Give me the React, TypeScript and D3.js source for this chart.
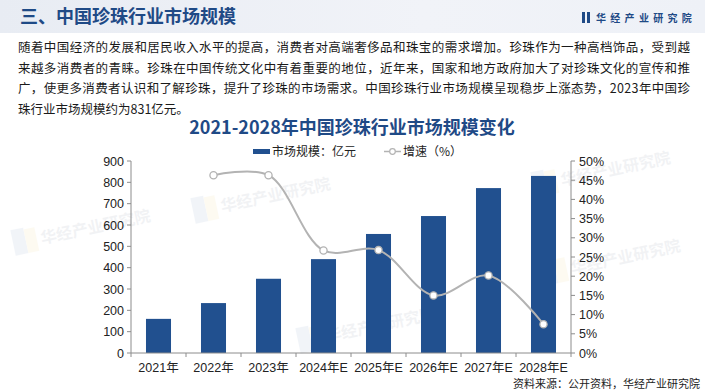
import React from "react";
import * as d3 from "d3";

const years = ["2021年", "2022年", "2023年", "2024年E", "2025年E", "2026年E", "2027年E", "2028年E"];
const marketSize = [160, 234, 348, 440, 558, 642, 773, 830];
const growth: (number | null)[] = [null, 46.3, 46.3, 26.7, 26.8, 15.0, 20.2, 7.5];
const leftTicks = [0, 100, 200, 300, 400, 500, 600, 700, 800, 900];
const rightTicks = [0, 5, 10, 15, 20, 25, 30, 35, 40, 45, 50];

const introLines = [
  "随着中国经济的发展和居民收入水平的提高，消费者对高端奢侈品和珠宝的需求增加。珍珠作为一种高档饰品，受到越",
  "来越多消费者的青睐。珍珠在中国传统文化中有着重要的地位，近年来，国家和地方政府加大了对珍珠文化的宣传和推",
  "广，使更多消费者认识和了解珍珠，提升了珍珠的市场需求。中国珍珠行业市场规模呈现稳步上涨态势，2023年中国珍",
  "珠行业市场规模约为831亿元。",
];

const W = 705;
const H = 392;
const BLUE = "#21508f";
const GRAY_LINE = "#b3b3b3";
const AXIS = "#8c8c8c";
const CJK = "'Noto Sans CJK SC', 'Noto Sans', sans-serif";
const NUM = "'Liberation Sans', Arial, 'Noto Sans CJK SC', sans-serif";

export default function App() {
  const plot = { left: 131, right: 571, top: 161, bottom: 353 };

  const x = d3.scaleBand<string>()
    .domain(years)
    .range([plot.left, plot.right])
    .paddingInner(0.545)
    .paddingOuter(0.2725);

  const yL = d3.scaleLinear().domain([0, 900]).range([plot.bottom, plot.top]);
  const yR = d3.scaleLinear().domain([0, 50]).range([plot.bottom, plot.top]);

  const pts = years
    .map((yr, i) => ({ yr, v: growth[i] }))
    .filter(d => d.v !== null) as { yr: string; v: number }[];

  const line = d3.line<{ yr: string; v: number }>()
    .x(d => (x(d.yr) ?? 0) + x.bandwidth() / 2)
    .y(d => yR(d.v))
    .curve(d3.curveCatmullRom.alpha(0.5));

  const step = x.step();
  const boundaries = d3.range(years.length + 1).map(i => plot.left + i * step);

  // faint background watermarks
  const watermarks = [
    { x: 250, y: 200 },
    { x: 590, y: 174 },
    { x: 355, y: 330 },
    { x: 600, y: 262 },
    { x: 70, y: 232 },
  ];

  return (
    <div style={{ position: "absolute", left: 0, top: 0 }}>
      <svg width={W} height={H} viewBox={`0 0 ${W} ${H}`} style={{ display: "block" }}>
        <defs>
          <linearGradient id="hdr" x1="0" x2="1" y1="0" y2="0">
            <stop offset="0" stopColor="#e8ecf3" />
            <stop offset="0.6" stopColor="#f1f3f8" />
            <stop offset="1" stopColor="#eef1f7" />
          </linearGradient>
        </defs>
        <rect x={0} y={0} width={W} height={H} fill="#ffffff" />
        <rect x={0} y={0} width={W} height={33} fill="url(#hdr)" />

        {watermarks.map((w, i) => (
          <g key={i} transform={`translate(${w.x},${w.y}) rotate(-12)`} opacity={0.08}>
            <rect x={-58} y={-14} width={13} height={26} fill="#5b7fb5" />
            <rect x={-45} y={-12} width={11} height={24} fill="#e8c85a" />
            <text x={-30} y={6} fontFamily={CJK} fontSize={16} fontWeight={700} fill="#5a6b85">华经产业研究院</text>
          </g>
        ))}

        {/* header */}
        <text x={20} y={23} fontFamily={CJK} fontSize={18} fontWeight={700} fill="#1f4a86">三、中国珍珠行业市场规模</text>
        <rect x={582} y={12} width={3} height={11} fill="#1f4a86" />
        <rect x={587} y={12} width={3} height={11} fill="#1f4a86" />
        <text x={596} y={22} fontFamily={CJK} fontSize={10} fontWeight={700} fill="#1f4a86" letterSpacing={4.3}>华经产业研究院</text>

        {/* intro paragraph */}
        {introLines.map((t, i) => (
          <text
            key={i}
            x={18}
            y={52 + i * 20.5}
            fontFamily={CJK}
            fontSize={12.5}
            fill="#1a1a1a"
            {...(i < 3 ? { textLength: 672, lengthAdjust: "spacing" } : {})}
          >{t}</text>
        ))}

        {/* chart title */}
        <text x={352} y={134} textAnchor="middle" fontFamily={CJK} fontSize={18} fontWeight={700} fill="#1f4a86">2021-2028年中国珍珠行业市场规模变化</text>

        {/* legend */}
        <rect x={253} y={149} width={17} height={5} fill={BLUE} />
        <text x={272} y={156} fontFamily={CJK} fontSize={12} fill="#222">市场规模：亿元</text>
        <line x1={384} x2={401} y1={151.5} y2={151.5} stroke={GRAY_LINE} strokeWidth={1.5} />
        <circle cx={392.5} cy={151.5} r={2.8} fill="#fff" stroke={GRAY_LINE} strokeWidth={1.2} />
        <text x={403} y={156} fontFamily={CJK} fontSize={12} fill="#222">增速（%）</text>

        {/* bars */}
        {years.map((yr, i) => (
          <rect
            key={yr}
            x={x(yr)}
            y={yL(marketSize[i])}
            width={x.bandwidth()}
            height={plot.bottom - yL(marketSize[i])}
            fill={BLUE}
          />
        ))}

        {/* growth line */}
        <path d={line(pts) ?? ""} fill="none" stroke={GRAY_LINE} strokeWidth={2} />
        {pts.map(d => (
          <circle
            key={d.yr}
            cx={(x(d.yr) ?? 0) + x.bandwidth() / 2}
            cy={yR(d.v)}
            r={3.6}
            fill="#ffffff"
            stroke={GRAY_LINE}
            strokeWidth={1.3}
          />
        ))}

        {/* left axis */}
        <line x1={plot.left} x2={plot.left} y1={plot.top} y2={plot.bottom} stroke={AXIS} strokeWidth={1} />
        {leftTicks.map(t => (
          <g key={t}>
            <line x1={plot.left - 4} x2={plot.left} y1={yL(t)} y2={yL(t)} stroke={AXIS} />
            <text x={plot.left - 7} y={yL(t) + 4.5} textAnchor="end" fontFamily={NUM} fontSize={12.5} fill="#222">{t}</text>
          </g>
        ))}

        {/* right axis */}
        <line x1={plot.right} x2={plot.right} y1={plot.top} y2={plot.bottom} stroke={AXIS} strokeWidth={1} />
        {rightTicks.map(t => (
          <g key={t}>
            <line x1={plot.right} x2={plot.right + 4} y1={yR(t)} y2={yR(t)} stroke={AXIS} />
            <text x={plot.right + 8} y={yR(t) + 4.5} fontFamily={NUM} fontSize={12.5} fill="#222">{t}%</text>
          </g>
        ))}

        {/* x axis */}
        <line x1={plot.left} x2={plot.right} y1={plot.bottom} y2={plot.bottom} stroke={AXIS} strokeWidth={1} />
        {boundaries.map((b, i) => (
          <line key={i} x1={b} x2={b} y1={plot.bottom} y2={plot.bottom + 4} stroke={AXIS} />
        ))}
        {years.map(yr => (
          <text
            key={yr}
            x={(x(yr) ?? 0) + x.bandwidth() / 2}
            y={plot.bottom + 19}
            textAnchor="middle"
            fontFamily={NUM}
            fontSize={12.5}
            fill="#222"
          >{yr}</text>
        ))}

        {/* source */}
        <text x={700} y={388} textAnchor="end" fontFamily={CJK} fontSize={11} fill="#222">资料来源：公开资料，华经产业研究院</text>
      </svg>
    </div>
  );
}
